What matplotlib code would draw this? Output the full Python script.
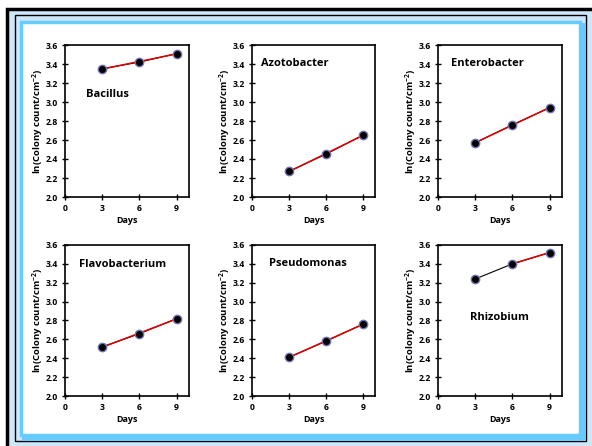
import numpy as np
import matplotlib.pyplot as plt
from matplotlib.patches import Rectangle

plt.rcParams['font.family'] = ['Open Sans', 'DejaVu Sans']
plt.rcParams['font.weight'] = 'bold'
plt.rcParams['mathtext.default'] = 'regular'

days = [3, 6, 9]
names = ['Bacillus', 'Azotobacter', 'Enterobacter',
         'Flavobacterium', 'Pseudomonas', 'Rhizobium']
bacillus = [3.35, 3.42, 3.51]
azotobacter = [2.27, 2.45, 2.65]
enterobacter = [2.57, 2.76, 2.94]
flavobacterium = [2.52, 2.66, 2.82]
pseudomonas = [2.41, 2.58, 2.76]
rhizobium = [3.24, 3.40, 3.52]
series = [bacillus, azotobacter, enterobacter, flavobacterium, pseudomonas, rhizobium]
# first point used by the red trend line
fit_start = [0, 0, 0, 0, 0, 1]
# where the species name sits (data coords)
name_pos = [(1.7, 3.08), (0.75, 3.41), (1.05, 3.41),
            (1.1, 3.39), (1.4, 3.40), (2.6, 2.83)]

W, H = 592, 446
fig = plt.figure(figsize=(W / 100, H / 100), dpi=100)
fig.patch.set_facecolor('white')

def px(x0, y0, x1, y1):
    # pixel box (y from top) -> figure fraction
    return x0 / W, 1 - y1 / H, (x1 - x0) / W, (y1 - y0) / H

def box(x0, y0, x1, y1, **kw):
    l, b, w, h = px(x0, y0, x1, y1)
    fig.patches.append(Rectangle((l, b), w, h, transform=fig.transFigure,
                                 zorder=-10, **kw))

# frame
box(7, 9, 600, 460, facecolor='#cfe7fb', edgecolor='black', lw=2.5)
box(15, 15, 586, 441, facecolor='#cfe7fb', edgecolor='black', lw=1)
box(22, 23, 586, 441, facecolor='#66ccff', edgecolor='none')
box(20.5, 21.5, 580, 435, facecolor='white', edgecolor='#66ccff', lw=2.5)

cols = [(65, 189), (252, 375), (438, 562)]
rows = [(45, 197), (245, 396)]

yt = np.arange(2.0, 3.61, 0.2)

for i, (name, vals) in enumerate(zip(names, series)):
    x0, x1 = cols[i % 3]
    y0, y1 = rows[i // 3]
    ax = fig.add_axes(px(x0, y0, x1, y1))
    ax.plot(days, vals, color='black', lw=0.8, zorder=2)
    s = fit_start[i]
    k, c = np.polyfit(days[s:], vals[s:], 1)
    xf = np.array([days[s], days[-1]])
    ax.plot(xf, k * xf + c, color='#e00000', lw=1.1, zorder=3)
    ax.plot(days, vals, 'o', color='black', ms=6,
            mec='#7070b0', mew=1.0, zorder=4)
    ax.text(*name_pos[i], name, fontsize=8, fontweight='bold',
            va='center', ha='left')
    ax.set_xlim(0, 10)
    ax.set_ylim(2.0, 3.6)
    ax.set_xticks([0, 3, 6, 9])
    ax.set_yticks(yt)
    ax.set_yticklabels(['%.1f' % v for v in yt])
    ax.tick_params(direction='inout', length=4, width=1, labelsize=6.2,
                   pad=3)
    for sp in ax.spines.values():
        sp.set_linewidth(1.2)
    ax.set_xlabel('Days', fontsize=6.5, fontweight='bold', labelpad=2)
    ax.set_ylabel('ln(Colony count/cm$^{-2}$)', fontsize=6.8,
                  fontweight='bold', labelpad=0)

fig.savefig('out.png', dpi=100)
